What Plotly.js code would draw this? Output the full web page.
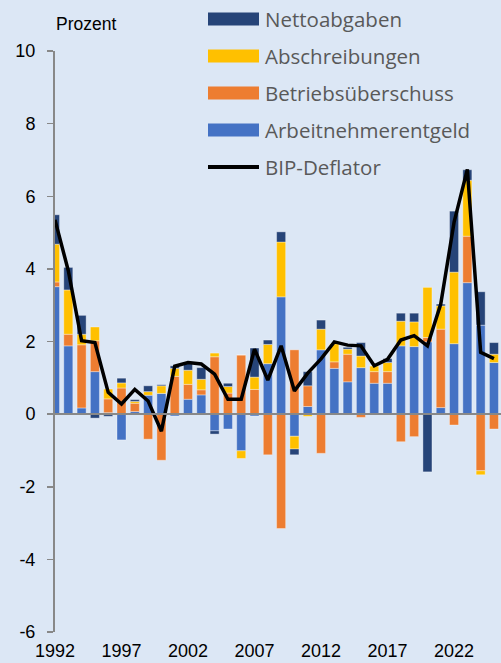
<!DOCTYPE html>
<html><head><meta charset="utf-8">
<script src="https://cdn.plot.ly/plotly-3.0.1.min.js"></script>
<style>html,body{margin:0;padding:0;background:#dce7f5;}#chart{width:501px;height:663px;}</style>
</head><body><div id="chart"></div>
<script>
const years = [1992,1993,1994,1995,1996,1997,1998,1999,2000,2001,2002,2003,2004,2005,2006,2007,2008,2009,2010,2011,2012,2013,2014,2015,2016,2017,2018,2019,2020,2021,2022,2023,2024,2025];
const arbeitnehmerentgeld = [3.51,1.88,0.17,1.17,0.04,-0.71,0.07,0.52,0.57,-0.05,0.41,0.53,-0.46,-0.41,-1.01,-0.05,1.39,3.23,-0.61,0.21,1.77,1.26,0.89,1.28,0.85,0.85,1.88,1.86,1.99,0.18,1.94,3.62,2.45,1.42];
const betriebsueberschuss = [0.13,0.32,1.74,0.85,0.38,0.72,0.23,-0.69,-1.27,1.04,0.41,0.14,1.58,0.58,1.63,0.68,-1.12,-3.15,1.77,0.57,-1.08,0.18,0.76,-0.09,0.32,0.32,-0.76,-0.62,0.12,2.16,-0.30,1.28,-1.56,-0.41];
const abschreibungen = [1.04,1.22,0.29,0.38,0.27,0.14,0.05,0.10,0.21,0.22,0.39,0.29,0.10,0.18,-0.21,0.34,0.53,1.51,-0.35,-0.06,0.57,0.50,0.14,0.32,0.16,0.25,0.68,0.68,1.38,0.64,1.97,1.54,-0.11,0.23];
const nettoabgaben = [0.81,0.62,0.52,-0.11,-0.06,0.13,0.05,0.16,0.03,0.07,0.22,0.32,-0.09,0.09,0,0.80,0.12,0.28,-0.16,0.39,0.25,0,0.05,0.37,0,0.11,0.22,0.24,-1.59,0.05,1.68,0.29,0.92,0.32];
const bipDeflator = [5.35,3.95,2.02,1.97,0.60,0.28,0.68,0.36,-0.47,1.32,1.42,1.38,1.10,0.41,0.41,1.79,0.94,1.88,0.64,1.13,1.52,1.99,1.90,1.88,1.33,1.51,2.04,2.16,1.88,3.03,5.28,6.74,1.70,1.53];
const yTickVals = [-6,-4,-2,0,2,4,6,8,10];
const yTickText = ['-6','-4','-2','0','2','4','6','8','10'];
const xTickVals = [1992,1997,2002,2007,2012,2017,2022];
const xTickText = ['1992','1997','2002','2007','2012','2017','2022'];
const seriesNames = ['Arbeitnehmerentgeld','Betriebsüberschuss','Abschreibungen','Nettoabgaben'];
const seriesColors = ['#4472C4','#ED7D31','#FFC000','#264478'];
const lineName = 'BIP-Deflator';

const seriesData = [arbeitnehmerentgeld, betriebsueberschuss, abschreibungen, nettoabgaben];
const traces = seriesData.map((vals, i) => ({
  type: 'bar', x: years, y: vals, name: seriesNames[i],
  marker: {color: seriesColors[i], line: {color: 'rgba(255,255,255,0.35)', width: 1}},
  showlegend: false, hoverinfo: 'x+y+name'
}));
traces.push({
  type: 'scatter', mode: 'lines', x: years, y: bipDeflator, name: lineName,
  line: {color: '#000000', width: 3.5}, showlegend: false
});

// layout geometry helpers (pixels -> paper)
const L = 55, T = 51, W = 446, H = 581;
const px = v => (v - L) / W;
const py = v => (T + H - v) / H;

const legendItems = [
  {name: 'Nettoabgaben', color: '#264478', y: 19},
  {name: 'Abschreibungen', color: '#FFC000', y: 56},
  {name: 'Betriebsüberschuss', color: '#ED7D31', y: 93},
  {name: 'Arbeitnehmerentgeld', color: '#4472C4', y: 130}
];
const legendFont = {family: 'Open Sans, sans-serif', size: 20.5, color: '#595959'};
const shapes = legendItems.map(it => ({
  type: 'rect', xref: 'paper', yref: 'paper',
  x0: px(208), x1: px(259), y0: py(it.y + 6.5), y1: py(it.y - 6.5),
  fillcolor: it.color, line: {width: 0}
}));
shapes.push({type: 'line', xref: 'paper', yref: 'paper', x0: px(208), x1: px(259), y0: py(167), y1: py(167), line: {color: '#000', width: 4}});
const annotations = legendItems.map(it => ({
  xref: 'paper', yref: 'paper', x: px(263), y: py(it.y), xanchor: 'left', yanchor: 'middle',
  text: it.name, showarrow: false, font: legendFont
}));
annotations.push({xref: 'paper', yref: 'paper', x: px(263), y: py(167), xanchor: 'left', yanchor: 'middle',
  text: lineName, showarrow: false, font: legendFont});
annotations.push({xref: 'paper', yref: 'paper', x: px(54), y: py(24), xanchor: 'left', yanchor: 'middle',
  text: 'Prozent', showarrow: false, font: {family: 'Liberation Sans, Arial, sans-serif', size: 17.5, color: '#000'}});

const layout = {
  width: 501, height: 663,
  margin: {l: L, r: 0, t: T, b: 663 - T - H, pad: 0},
  paper_bgcolor: '#dce7f5', plot_bgcolor: '#dce7f5',
  barmode: 'relative', bargap: 0.32,
  showlegend: false,
  font: {family: 'Liberation Sans, Arial, sans-serif', size: 18, color: '#000'},
  xaxis: {
    range: [1992, 2025.53], tickvals: xTickVals, ticktext: xTickText,
    showline: false, showgrid: false, zeroline: false, ticks: '',
    ticklabelstandoff: 6, automargin: false,
    tickfont: {family: 'Liberation Sans, Arial, sans-serif', size: 18, color: '#000'}
  },
  yaxis: {
    range: [-6, 10], tickvals: yTickVals, ticktext: yTickText,
    showline: true, linecolor: '#888', linewidth: 2,
    ticks: 'outside', ticklen: 6, tickwidth: 1.5, tickcolor: '#888',
    showgrid: false, zeroline: true, zerolinecolor: '#888', zerolinewidth: 2,
    zerolinelayer: 'above traces', layer: 'above traces',
    ticklabelstandoff: 8, automargin: false,
    tickfont: {family: 'Liberation Sans, Arial, sans-serif', size: 18, color: '#000'}
  },
  shapes: shapes, annotations: annotations
};
Plotly.newPlot('chart', traces, layout, {displayModeBar: false, staticPlot: true});
</script>
</body></html>
